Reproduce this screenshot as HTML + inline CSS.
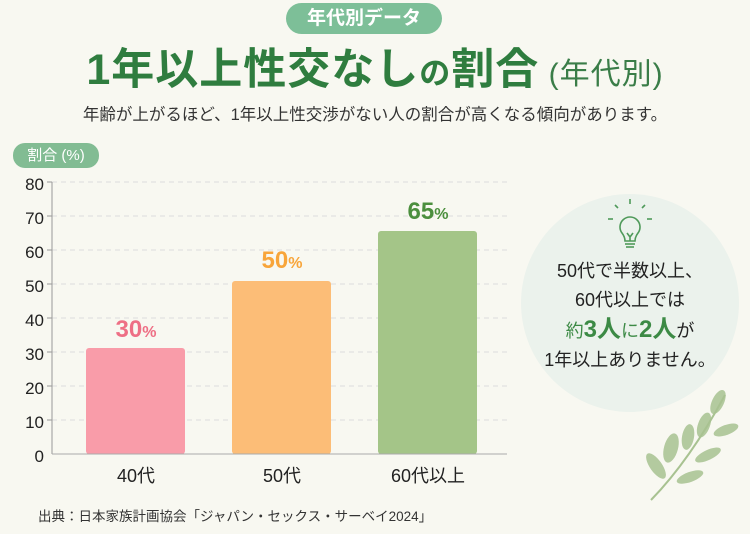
<!DOCTYPE html>
<html><head><meta charset="utf-8"><style>
*{margin:0;padding:0;box-sizing:border-box}
body{width:750px;height:534px;background:#f8f8f1;font-family:"Liberation Sans","Noto Sans CJK JP",sans-serif;position:relative;overflow:hidden;color:#222}
.abs{position:absolute}
.c{text-align:center}
</style></head><body>
<div class="abs c" style="left:286px;top:3px;width:156px;height:31px;border-radius:16px;background:#7dbf98;color:#fff;font-size:19px;line-height:31px;font-weight:bold">年代別データ</div>
<div class="abs c" style="left:0;top:42px;width:750px;font-size:43px;font-weight:bold;color:#2f7d3f;line-height:56px;letter-spacing:1px">1年以上性交なし<span style="font-size:31px">の</span>割合<span style="font-size:30px;font-weight:normal;color:#3a7d48"> (年代別)</span></div>
<div class="abs c" style="left:0;top:103px;width:750px;font-size:16.5px;line-height:24px;color:#333">年齢が上がるほど、1年以上性交渉がない人の割合が高くなる傾向があります。</div>
<div class="abs c" style="left:13px;top:143px;width:86px;height:25px;border-radius:12px;background:#82bc93;color:#fff;font-size:15px;line-height:25px">割合 (%)</div>
<svg class="abs" style="left:0;top:0" width="750" height="534">
<g stroke="#ddd" stroke-dasharray="5,4" stroke-width="1">
<line x1="52" x2="507" y1="182" y2="182"/><line x1="52" x2="507" y1="216" y2="216"/><line x1="52" x2="507" y1="250" y2="250"/><line x1="52" x2="507" y1="284" y2="284"/><line x1="52" x2="507" y1="318" y2="318"/><line x1="52" x2="507" y1="352" y2="352"/><line x1="52" x2="507" y1="386" y2="386"/><line x1="52" x2="507" y1="420" y2="420"/>
</g>
<g stroke="#999"><line x1="52" x2="52" y1="182" y2="454"/><line x1="47" x2="52" y1="182" y2="182"/><line x1="47" x2="52" y1="216" y2="216"/><line x1="47" x2="52" y1="250" y2="250"/><line x1="47" x2="52" y1="284" y2="284"/><line x1="47" x2="52" y1="318" y2="318"/><line x1="47" x2="52" y1="352" y2="352"/><line x1="47" x2="52" y1="386" y2="386"/><line x1="47" x2="52" y1="420" y2="420"/></g>
<g font-size="17" fill="#222" text-anchor="end" font-family="Liberation Sans, sans-serif">
<text x="44" y="190">80</text><text x="44" y="224">70</text><text x="44" y="258">60</text><text x="44" y="292">50</text><text x="44" y="326">40</text><text x="44" y="360">30</text><text x="44" y="394">20</text><text x="44" y="428">10</text><text x="44" y="462">0</text>
</g>
<rect x="86" y="348" width="99" height="106" rx="3" fill="#f99ca9"/>
<rect x="232" y="281" width="99" height="173" rx="3" fill="#fcbd77"/>
<rect x="378" y="231" width="99" height="223" rx="3" fill="#a4c588"/>
<line x1="52" x2="507" y1="454" y2="454" stroke="#aaa"/>
<g font-size="18" text-anchor="middle" fill="#222" font-family="Liberation Sans, Noto Sans CJK JP, sans-serif">
<text x="136" y="482">40代</text><text x="282" y="482">50代</text><text x="428" y="482">60代以上</text>
</g>
<g font-weight="bold" text-anchor="middle" font-family="Liberation Sans, sans-serif">
<text x="136" y="337" font-size="24" fill="#ee6f85">30<tspan font-size="16">%</tspan></text>
<text x="282" y="268" font-size="24" fill="#f8a53a">50<tspan font-size="16">%</tspan></text>
<text x="428" y="219" font-size="24" fill="#4c8f3e">65<tspan font-size="16">%</tspan></text>
</g>
<circle cx="630" cy="303" r="109" fill="#ebf2ec"/>
<g stroke="#4f9a5a" stroke-width="1.6" fill="none">
<path d="M622 233 a10 10 0 1 1 16 0 q-3 4 -3 8 h-10 q0 -4 -3 -8z"/><line x1="625" y1="244" x2="635" y2="244"/><line x1="626" y1="247" x2="634" y2="247"/><path d="M627 233 l3 4 l3 -4 M630 237 v4"/>
<line x1="630" y1="199" x2="630" y2="204"/><line x1="615" y1="205" x2="618" y2="208"/><line x1="645" y1="205" x2="642" y2="208"/><line x1="608" y1="219" x2="613" y2="219"/><line x1="647" y1="219" x2="652" y2="219"/>
</g>
<path d="M651 500 Q690 460 725 395" stroke="#a8c291" stroke-width="2" fill="none"/>
<g fill="#a8c291" opacity="0.85">
<ellipse cx="718" cy="402" rx="6" ry="13" transform="rotate(25 718 402)"/>
<ellipse cx="704" cy="425" rx="6" ry="13" transform="rotate(20 704 425)"/>
<ellipse cx="726" cy="430" rx="5" ry="13" transform="rotate(70 726 430)"/>
<ellipse cx="688" cy="437" rx="6" ry="13" transform="rotate(10 688 437)"/>
<ellipse cx="671" cy="448" rx="7" ry="15" transform="rotate(15 671 448)"/>
<ellipse cx="708" cy="455" rx="5" ry="14" transform="rotate(65 708 455)"/>
<ellipse cx="656" cy="466" rx="6" ry="15" transform="rotate(-35 656 466)"/>
<ellipse cx="690" cy="477" rx="5" ry="14" transform="rotate(70 690 477)"/>
</g>
</svg>
<div class="abs c" style="left:522px;top:257px;width:216px;font-size:18px;line-height:29px;color:#222">50代で半数以上、<br>60代以上では<br><span style="color:#3c8a45">約<b style="font-size:24px">3人</b>に<b style="font-size:24px">2人</b></span>が<br>1年以上ありません。</div>
<div class="abs" style="left:38px;top:505px;font-size:13.5px;color:#333">出典：日本家族計画協会「ジャパン・セックス・サーベイ2024」</div>
</body></html>
